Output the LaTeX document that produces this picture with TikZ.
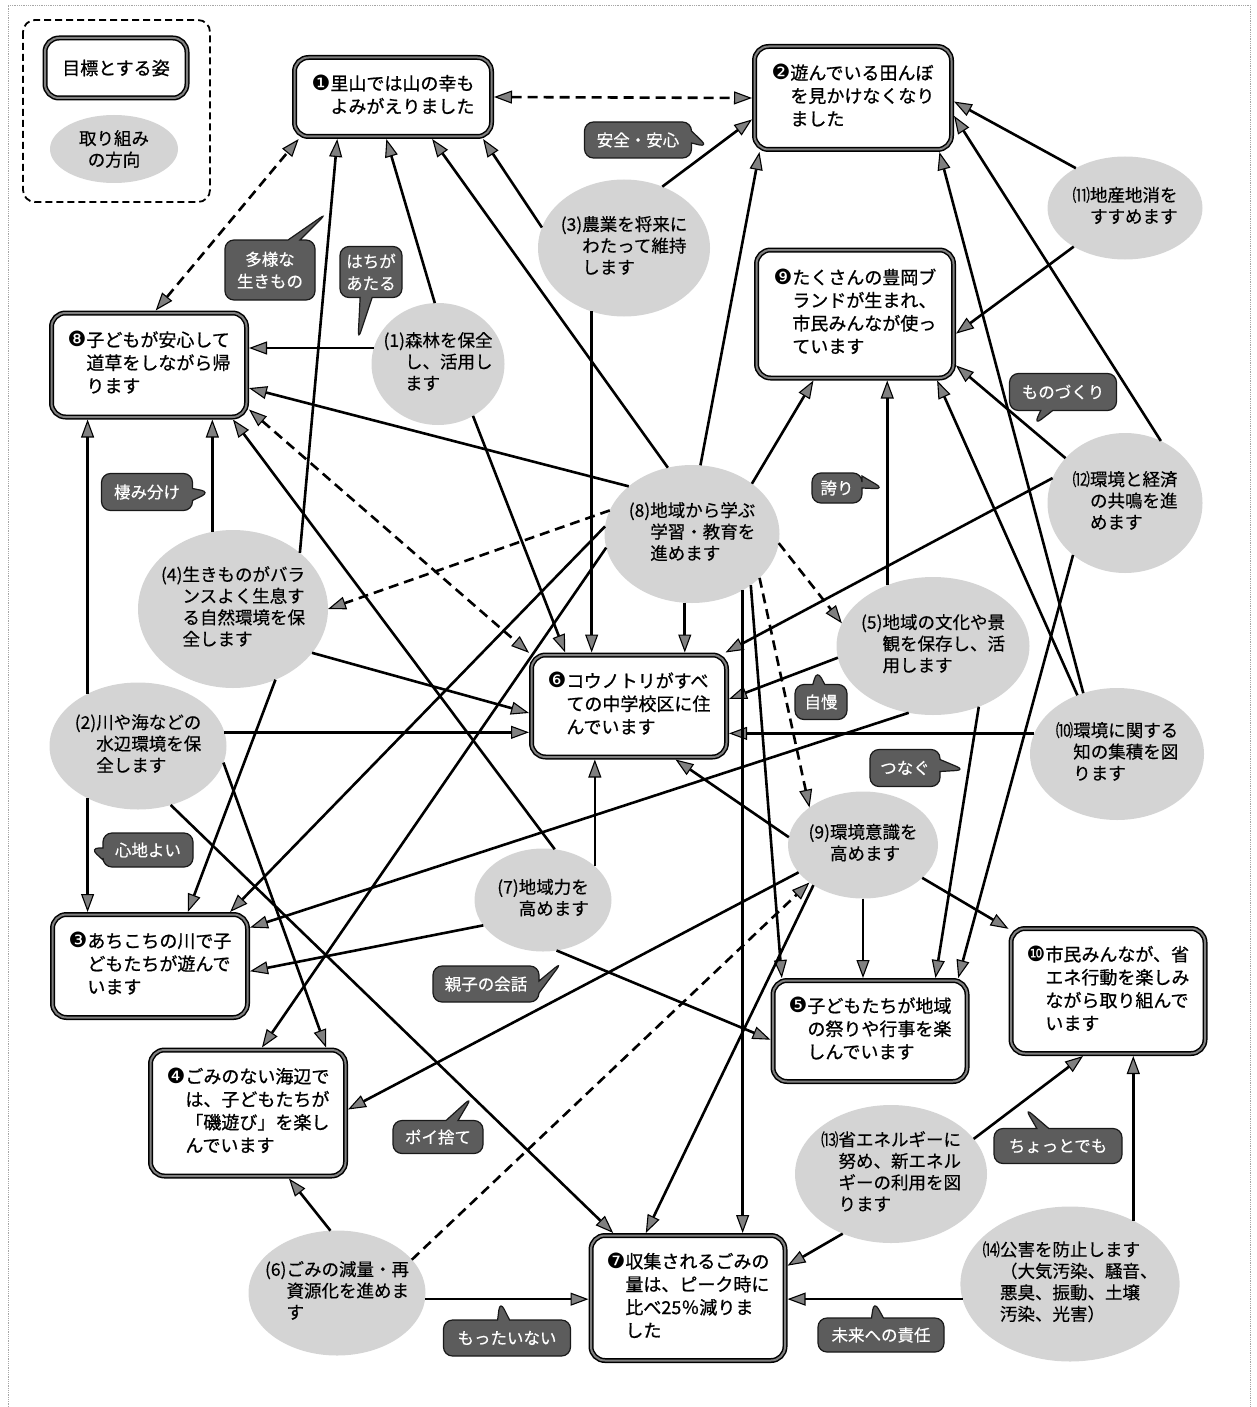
\documentclass[tikz,border=0pt]{standalone}
\usepackage{fontspec}
\newfontfamily\jpfont[FakeBold=0.4]{Noto Sans CJK JP}
\newfontfamily\jpgoal[FakeBold=0.9]{Noto Sans CJK JP}
\newfontfamily\numfont{DejaVu Sans}
\usetikzlibrary{arrows.meta,shapes.geometric,shapes.callouts}
\newcommand{\hang}[2]{\begin{tabular}{@{}l@{}l@{}}#1&#2\end{tabular}}
\newcommand{\gnum}[1]{{\numfont\fontsize{21}{16}\selectfont#1}}
\begin{document}
\begin{tikzpicture}[x=1pt,y=-1pt,
          >={Triangle[length=18pt,width=13pt,fill=black!50,line width=1.1pt]},
          goal/.style={draw=black,line width=1.5pt,double=black!50,double distance=2pt,
            rounded corners=14pt,fill=white,inner sep=0pt,outer sep=2.5pt,
            font=\jpgoal\fontsize{18}{23}\selectfont},
          way/.style={ellipse,fill=black!17,inner xsep=-10pt,inner ysep=-4pt,outer sep=0pt,
            font=\jpfont\fontsize{17.5}{21.5}\selectfont},
          note/.style={rectangle callout,rounded corners=9pt,fill=black!64,draw=black!90,
            line width=1.2pt,text=white,align=center,inner sep=0pt,callout pointer width=12pt,
            font=\jpfont\fontsize{16.5}{22}\selectfont},
          dims/.style 2 args={minimum width=#1pt,minimum height=#2pt},
          link/.style={->,line width=2.6pt},
          hint/.style={link,dash pattern=on 10pt off 6pt}]
  \useasboundingbox(0,0)rectangle(1257,1407);
  \draw[black!35,densely dotted,line width=0.8pt](8,1407)--(8,5)--(1250,5)--(1250,1407);
  \draw[line width=1.8pt,dash pattern=on 7pt off 4pt,rounded corners=12pt](23,20)rectangle(210,202);
  \node[goal,dims={142}{60}](keyGoal)at(116,68){目標とする姿};
  \node[way,dims={128}{68},align=center](keyWay)at(114,149){取り組み\\の方向};

  \node[goal,dims={197}{79}](G1)at(393,97){\hang{\gnum{❶}}{里山では山の幸も\\&よみがえりました}};
  \node[goal,dims={197}{103}](G2)at(853,98){\hang{\gnum{❷}}{遊んでいる田んぼ\\&を見かけなくなり\\&ました}};
  \node[goal,dims={197}{128}](G9)at(855,314){\hang{\gnum{❾}}{たくさんの豊岡ブ\\&ランドが生まれ、\\&市民みんなが使っ\\&ています}};
  \node[goal,dims={195}{104}](G8)at(149,365){\hang{\gnum{❽}}{子どもが安心して\\&道草をしながら帰\\&ります}};
  \node[goal,dims={195}{102}](G6)at(629,706){\hang{\gnum{❻}}{コウノトリがすべ\\&ての中学校区に住\\&んでいます}};
  \node[goal,dims={195}{103}](G3)at(150,966){\hang{\gnum{❸}}{あちこちの川で子\\&どもたちが遊んで\\&います}};
  \node[goal,dims={195}{126}](G4)at(248,1113){\hang{\gnum{❹}}{ごみのない海辺で\\&は、子どもたちが\\&「磯遊び」を楽し\\&んでいます}};
  \node[goal,dims={194}{101}](G5)at(870,1031){\hang{\gnum{❺}}{子どもたちが地域\\&の祭りや行事を楽\\&しんでいます}};
  \node[goal,dims={194}{125}](G10)at(1108,991){\hang{\gnum{❿}}{市民みんなが、省\\&エネ行動を楽しみ\\&ながら取り組んで\\&います}};
  \node[goal,dims={194}{125}](G7)at(688,1298){\hang{\gnum{❼}}{収集されるごみの\\&量は、ピーク時に\\&比べ25％減りま\\&した}};

  \node[way,dims={133}{122}](A1)at(438,364){\hang{(1)}{森林を保全\\&し、活用し\\&ます}};
  \node[way,dims={177}{127}](A2)at(138,746){\hang{(2)}{川や海などの\\&水辺環境を保\\&全します}};
  \node[way,dims={172}{137}](A3)at(624,248){\hang{(3)}{農業を将来に\\&わたって維持\\&します}};
  \node[way,dims={190}{158}](A4)at(233,609){\hang{(4)}{生きものがバラ\\&ンスよく生息す\\&る自然環境を保\\&全します}};
  \node[way,dims={193}{138}](A5)at(933,646){\hang{(5)}{地域の文化や景\\&観を保存し、活\\&用します}};
  \node[way,dims={177}{125}](A6)at(337,1293){\hang{(6)}{ごみの減量・再\\&資源化を進めま\\&す}};
  \node[way,dims={137}{103}](A7)at(543,900){\hang{(7)}{地域力を\\&高めます}};
  \node[way,dims={175}{138}](A8)at(692,534){\hang{(8)}{地域から学ぶ\\&学習・教育を\\&進めます}};
  \node[way,dims={150}{107}](A9)at(863,845){\hang{(9)}{環境意識を\\&高めます}};
  \node[way,dims={174}{132}](A10)at(1117,754){\hang{⑽}{環境に関する\\&知の集積を図\\&ります}};
  \node[way,dims={155}{103}](A11)at(1125,208){\hang{⑾}{地産地消を\\&すすめます}};
  \node[way,dims={155}{140}](A12)at(1125,503){\hang{⑿}{環境と経済\\&の共鳴を進\\&めます}};
  \node[way,dims={192}{138}](A13)at(891,1174){\hang{⒀}{省エネルギーに\\&努め、新エネル\\&ギーの利用を図\\&ります}};
  \node[way,dims={190}{155}](A14)at(1070,1284){\hang{⒁}{公害を防止します\\&（大気汚染、騒音、\\&悪臭、振動、土壌\\&汚染、光害）}};

  \draw[hint,<->](G1.east)--(G2.west);
  \draw[hint,<->](G8.83)--(G1.204);
  \draw[hint,<->](G8.336)--(G6.152);
  \draw[hint](A8.164)--(A4.0);
  \draw[hint](A8.354)--(A5.166);
  \draw[hint](A8.327)--(A9.145);
  \draw[hint](A6.24)--(A9.215);

  \draw[link](A4.40)--(G1.217);
  \draw[link](A1.93)--(G1.261);
  \draw[link](A8.110)--(G1.313);
  \draw[link](A3.166)--(G1.335);

  \draw[link](A3.58)--(G2.192);
  \draw[link](A8.83)--(G2.210);
  \draw[link](A11.141)--(G2.358);
  \draw[link](A12.60)--(G2.350);
  \draw[link](A10.119)--(G2.328);

  \draw[link](A8.40)--(G9.238);
  \draw[link](A11.217)--(G9.349);
  \draw[link](A12.143)--(G9.333);
  \draw[link](A10.124)--(G9.321);
  \draw[link](A5.127)--(A5.127 |- G9.south);

  \draw[link](A1.166)--(A1.166 -| G8.east);
  \draw[link](A8.143)--(G8.347);
  \draw[link](A7.77)--(G8.327);
  \draw[link](A2.134)--(A2.134 |- G8.south);
  \draw[link](A4.105)--(A4.105 |- G8.south);

  \draw[link](A4.331)--(G6.184);
  \draw[link](A2.9)--(A2.9 -| G6.west);
  \draw[link](A1.304)--(G6.140);
  \draw[link](A3.243)--(A3.243 |- G6.north);
  \draw[link](A8.264)--(A8.264 |- G6.north);
  \draw[link](A12.161)--(G6.29);
  \draw[link](A5.187)--(G6.4);
  \draw[link](A10.166)--(A10.166 -| G6.east);
  \draw[link](A9.174)--(G6.311);
  \draw[link](A7.33)--(A7.33 |- G6.south);

  \draw[link](A2.226)--(A2.226 |- G3.north);
  \draw[link](A4.301)--(G3.55);
  \draw[link](A8.175)--(G3.34);
  \draw[link](A5.250)--(G3.21);
  \draw[link](A7.203)--(G3.357);

  \draw[link](A8.189)--(G4.78);
  \draw[link](A2.349)--(G4.40);
  \draw[link](A9.203)--(G4.2);
  \draw[link](A6.96)--(G4.302);

  \draw[link](A7.285)--(G5.185);
  \draw[link](A9.south)--(A9.south |- G5.north);
  \draw[link](A5.307)--(G5.39);
  \draw[link](A12.225)--(G5.31);
  \draw[link](A8.319)--(G5.149);

  \draw[link](A9.331)--(G10.148);
  \draw[link](A13.23)--(G10.249);
  \draw[link](A14.45)--(A14.45 |- G10.south);

  \draw[link](A9.219)--(G7.123);
  \draw[link](A8.312)--(A8.312 |- G7.north);
  \draw[link](A2.299)--(G7.139);
  \draw[link](A6.356)--(A6.356 -| G7.west);
  \draw[link](A13.231)--(G7.18);
  \draw[link](A14.188)--(A14.188 -| G7.east);

  \node[note,dims={107}{36},callout absolute pointer={(708,147)}](nAnzen)at(638,140){安全・安心};
  \node[note,dims={90}{60},callout absolute pointer={(327,213)}](nTayou)at(270,270){多様な\\生きもの};
  \node[note,dims={62}{51},callout absolute pointer={(358,340)}](nHachi)at(371,272){はちが\\あたる};
  \node[note,dims={91}{37},callout absolute pointer={(210,492)}](nSumi)at(147,492){棲み分け};
  \node[note,dims={107}{37},callout absolute pointer={(1034,425)}](nMono)at(1063,392){ものづくり};
  \node[note,dims={50}{30},callout absolute pointer={(884,489)}](nHokori)at(837,488){誇り};
  \node[note,dims={52}{35},callout absolute pointer={(817,670)}](nJiman)at(821,702){自慢};
  \node[note,dims={70}{37},callout absolute pointer={(965,770)}](nTsunagu)at(905,768){つなぐ};
  \node[note,dims={90}{34},callout absolute pointer={(90,848)}](nKokochi)at(148,850){心地よい};
  \node[note,dims={106}{36},callout absolute pointer={(562,962)}](nOyako)at(486,984){親子の会話};
  \node[note,dims={90}{33},callout absolute pointer={(472,1097)}](nPoi)at(438,1137){ポイ捨て};
  \node[note,dims={127}{36},callout absolute pointer={(500,1301)}](nMottai)at(507,1338){もったいない};
  \node[note,dims={126}{34},callout absolute pointer={(874,1301)}](nMirai)at(881,1335){未来への責任};
  \node[note,dims={128}{35},callout absolute pointer={(1025,1108)}](nChotto)at(1058,1146){ちょっとでも};
\end{tikzpicture}
\end{document}
